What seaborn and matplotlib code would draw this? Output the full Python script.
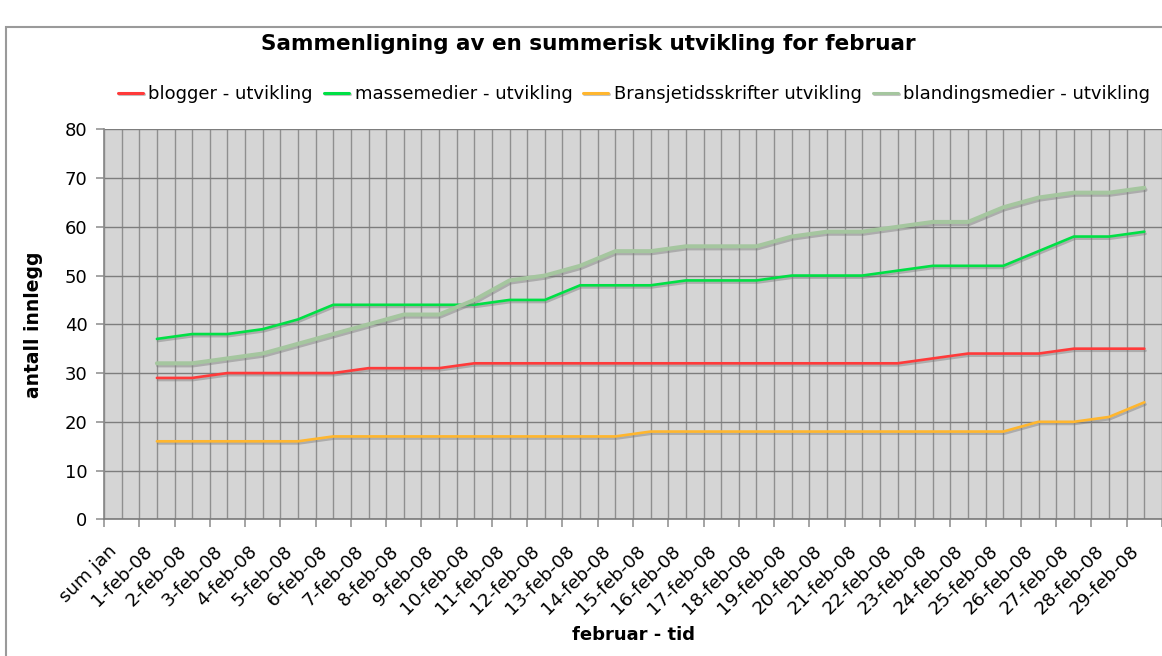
import matplotlib
matplotlib.use("Agg")
import matplotlib.pyplot as plt
import matplotlib.patheffects as pe
import matplotlib.transforms as mtransforms
from matplotlib.patches import Rectangle
from matplotlib.lines import Line2D
import seaborn as sns
import pandas as pd
import numpy as np

categories = ["sum jan"] + [f"{d}-feb-08" for d in range(1, 30)]
days = [f"{d}-feb-08" for d in range(1, 30)]

blogger = [29, 29, 30, 30, 30, 30, 31, 31, 31, 32, 32, 32, 32, 32, 32, 32, 32, 32, 32,
           32, 32, 32, 33, 34, 34, 34, 35, 35, 35]
massemedier = [37, 38, 38, 39, 41, 44, 44, 44, 44, 44, 45, 45, 48, 48, 48, 49, 49, 49, 50,
               50, 50, 51, 52, 52, 52, 55, 58, 58, 59]
bransje = [16, 16, 16, 16, 16, 17, 17, 17, 17, 17, 17, 17, 17, 17, 18, 18, 18, 18, 18,
           18, 18, 18, 18, 18, 18, 20, 20, 21, 24]
blanding = [32, 32, 33, 34, 36, 38, 40, 42, 42, 45, 49, 50, 52, 55, 55, 56, 56, 56, 58,
            59, 59, 60, 61, 61, 64, 66, 67, 67, 68]

series_names = ["blogger - utvikling", "massemedier - utvikling",
                "Bransjetidsskrifter utvikling", "blandingsmedier - utvikling"]
series_values = [blogger, massemedier, bransje, blanding]
colors = ["#FF3A3A", "#00E045", "#FFB62E", "#A5C69F"]
widths = [1.9, 1.9, 1.9, 2.9]

rows = []
for name, vals in zip(series_names, series_values):
    for day, v in zip(days, vals):
        rows.append({"pos": categories.index(day), "value": v, "serie": name})
df = pd.DataFrame(rows)

sns.set_theme(style="white")
plt.rcParams["font.family"] = ["DejaVu Sans"]
plt.rcParams["text.color"] = "black"
plt.rcParams["axes.labelcolor"] = "black"
plt.rcParams["xtick.color"] = "black"
plt.rcParams["ytick.color"] = "black"

fig = plt.figure(figsize=(11.62, 6.56), dpi=100)
ax = fig.add_axes([104 / 1162, (656 - 519.3) / 656, (1162 - 104) / 1162, 390 / 656])
ax.set_facecolor("#D5D5D5")

sns.lineplot(data=df, x="pos", y="value", hue="serie", hue_order=series_names,
             palette=colors, ax=ax, legend=False)
for line, lw in zip(ax.get_lines(), widths):
    line.set_linewidth(lw)
    line.set_solid_joinstyle("round")
    line.set_path_effects([pe.SimpleLineShadow(offset=(0.8, -1.5), shadow_color="#7a7a7a", alpha=0.45),
                           pe.Normal()])

n = len(categories)
ax.set_xlim(-0.5, n - 0.5)
ax.set_ylim(0, 80)
ax.set_yticks(np.arange(0, 81, 10))
ax.set_xticks(np.arange(n + 1) - 0.5)
ax.set_xticklabels([])
ax.set_xticks(np.arange(n), minor=True)
ax.set_xticklabels(categories, minor=True, rotation=45, ha="right", va="center",
                   rotation_mode="anchor", fontsize=13.2)
ax.tick_params(axis="x", which="major", length=6, color="#999999", direction="out", bottom=True)
ax.tick_params(axis="x", which="minor", length=0, pad=21, bottom=True, labelcolor="black")
ax.tick_params(axis="y", which="major", length=6, color="#999999", direction="out", left=True,
               labelsize=13, pad=6, labelcolor="black")

shift = mtransforms.ScaledTranslation(-8 / 100, 0, fig.dpi_scale_trans)
for lab in ax.get_xticklabels(minor=True):
    lab.set_transform(lab.get_transform() + shift)

ax.grid(True, axis="y", which="major", color="#7d7d7d", linewidth=1.0)
ax.grid(True, axis="x", which="both", color="#8f8f8f", linewidth=1.0)
ax.set_axisbelow(True)

for s in ["top", "right"]:
    ax.spines[s].set_visible(False)
ax.spines["left"].set_color("#8a8a8a")
ax.spines["bottom"].set_color("#7a7a7a")
ax.spines["bottom"].set_linewidth(1.2)

ax.set_xlabel("februar - tid", fontsize=13, fontweight="bold", color="black")
ax.set_ylabel("antall innlegg", fontsize=13.5, fontweight="bold", color="black")
ax.xaxis.set_label_coords((634 - 104) / 1058, -(626 - 519.3) / 390)
ax.yaxis.set_label_coords(-(104 - 43) / 1058, 0.5)

fig.text(588 / 1162, 1 - 44 / 656, "Sammenligning av en summerisk utvikling for februar",
         ha="center", va="center", fontsize=15.5, fontweight="bold", color="black")

handles = [Line2D([], [], color=c, lw=2.2,
                  path_effects=[pe.SimpleLineShadow(offset=(0.8, -1.2), shadow_color="#7a7a7a", alpha=0.45), pe.Normal()])
           for c in colors]
leg = fig.legend(handles, series_names, loc="center", bbox_to_anchor=(634 / 1162, 1 - 94 / 656),
                 ncol=4, frameon=False, fontsize=13, handlelength=1.4, handletextpad=0.3,
                 columnspacing=0.6, labelcolor="black")

fig.patches.append(Rectangle((6 / 1162, -0.1), 1.2, 1.1 - 27 / 656, transform=fig.transFigure,
                             fill=False, edgecolor="#9a9a9a", linewidth=1.5))

fig.savefig("out.png", dpi=100)
